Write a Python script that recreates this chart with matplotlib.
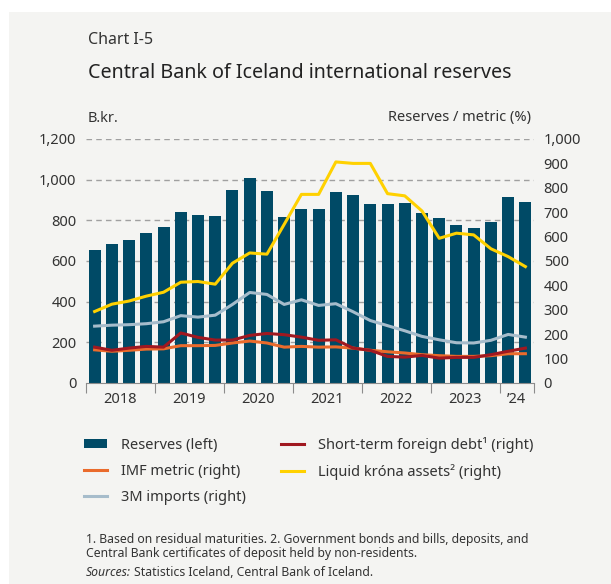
import matplotlib.pyplot as plt
from matplotlib.patches import Rectangle, Patch
from matplotlib.lines import Line2D

plt.rcParams['font.family'] = ['Noto Sans', 'DejaVu Sans']

# Quarterly data 2018Q1 - 2024Q2
years = ["2018", "2019", "2020", "2021", "2022", "2023", "\u201924"]
quarters_per_year = [4, 4, 4, 4, 4, 4, 2]

reserves = [655, 684, 704, 738, 768, 841, 827, 822,
            950, 1008, 945, 817, 856, 856, 940, 925,
            881, 881, 886, 837, 812, 778, 763, 792,
            915, 891]
liquid_krona = [293, 323, 336, 356, 372, 413, 416, 405,
                491, 533, 528, 650, 773, 773, 906, 900,
                900, 776, 767, 705, 593, 614, 607, 550,
                518, 477]
imports_3m = [233, 237, 239, 243, 251, 276, 270, 278,
              322, 371, 363, 322, 341, 318, 325, 292,
              256, 235, 214, 191, 177, 165, 164, 175,
              199, 188]
short_term_debt = [147, 134, 143, 150, 147, 205, 187, 176,
                   176, 195, 203, 198, 188, 175, 177, 143,
                   134, 109, 106, 113, 102, 105, 105, 116,
                   130, 143]
imf_metric = [136, 130, 134, 139, 140, 153, 153, 154,
              164, 172, 164, 147, 150, 147, 148, 143,
              134, 128, 123, 116, 112, 109, 109, 112,
              120, 120]

C_BAR = "#004a66"
C_YEL = "#ffd100"
C_RED = "#a01820"
C_ORA = "#ea6b2c"
C_BLU = "#a6bccb"
C_TXT = "#333333"
C_BG = "#f4f4f2"

W, H = 611, 584
fig = plt.figure(figsize=(W / 100, H / 100), dpi=100, facecolor="white")
fig.patches.append(Rectangle((9 / W, 0), 1 - 9 / W, 1 - 12 / H,
                             transform=fig.transFigure, facecolor=C_BG,
                             edgecolor="none", zorder=-10))

ax = fig.add_axes([86 / W, 1 - 383 / H, (534 - 86) / W, (383 - 139) / H])
ax.set_facecolor("none")
ax2 = ax.twinx()

n = len(reserves)
xs = list(range(n))
ax.bar(xs, reserves, width=0.7, color=C_BAR, zorder=2)
ax.set_xlim(-0.5, n - 0.5)
ax.set_ylim(0, 1200)
ax.set_yticks(range(0, 1201, 200))
ax.set_yticklabels([f"{v:,}" for v in range(0, 1201, 200)])
for v in range(200, 1201, 200):
    ax.axhline(v, color="#a0a0a0", lw=1, ls=(0, (4, 3)), zorder=1)

ax2.plot(xs, imports_3m, color=C_BLU, lw=2.2)
ax2.plot(xs, imf_metric, color=C_ORA, lw=2.2)
ax2.plot(xs, short_term_debt, color=C_RED, lw=2.2)
ax2.plot(xs, liquid_krona, color=C_YEL, lw=2.2)
ax2.set_ylim(0, 1000)
ax2.set_yticks(range(0, 1001, 100))
ax2.set_yticklabels([f"{v:,}" for v in range(0, 1001, 100)])

for a in (ax, ax2):
    for s in ("top", "left", "right"):
        a.spines[s].set_visible(False)
    a.spines["bottom"].set_color("#8c8c8c")
    a.tick_params(axis="y", length=0, labelsize=10.5, labelcolor=C_TXT, pad=7)
ax2.spines["bottom"].set_visible(False)

# year boundaries and labels
bounds = [-0.5]
for q in quarters_per_year:
    bounds.append(bounds[-1] + q)
ax.set_xticks(bounds)
ax.set_xticklabels([])
ax.tick_params(axis="x", length=7, color="#8c8c8c", direction="out")
centers = [(bounds[i] + bounds[i + 1]) / 2 for i in range(len(years))]
for c, lab in zip(centers, years):
    ax.text(c, -0.035, lab, transform=ax.get_xaxis_transform(),
            ha="center", va="top", fontsize=10.5, color=C_TXT)

# titles and axis units
fig.text(88 / W, 1 - 40 / H, "Chart I-5", fontsize=11.5, color=C_TXT, va="center")
fig.text(88 / W, 1 - 73 / H, "Central Bank of Iceland international reserves",
         fontsize=14.2, color="#222222", va="center")
fig.text(88 / W, 1 - 118 / H, "B.kr.", fontsize=10.5, color=C_TXT, va="center")
fig.text(531 / W, 1 - 118 / H, "Reserves / metric (%)", fontsize=10.5,
         color=C_TXT, va="center", ha="right")

handles = [
    Patch(facecolor=C_BAR, edgecolor="none"),
    Line2D([], [], color=C_ORA, lw=2.2),
    Line2D([], [], color=C_BLU, lw=2.2),
    Line2D([], [], color=C_RED, lw=2.2),
    Line2D([], [], color=C_YEL, lw=2.2),
]
labels = [
    "Reserves (left)",
    "IMF metric (right)",
    "3M imports (right)",
    "Short-term foreign debt\u00b9 (right)",
    "Liquid kr\u00f3na assets\u00b2 (right)",
]
fig.legend(handles, labels, ncol=2, loc="upper left",
           bbox_to_anchor=(84 / W, 1 - 437 / H), frameon=False,
           fontsize=10.5, handlelength=1.6, handleheight=0.6,
           handletextpad=0.95, columnspacing=2.4, labelspacing=0.75,
           borderpad=0, borderaxespad=0, labelcolor=C_TXT)

FN = 8.8
fig.text(86 / W, 1 - 540 / H,
         "1. Based on residual maturities. 2. Government bonds and bills, deposits, and",
         fontsize=FN, color=C_TXT, va="center")
fig.text(86 / W, 1 - 553 / H,
         "Central Bank certificates of deposit held by non-residents.",
         fontsize=FN, color=C_TXT, va="center")
src = fig.text(86 / W, 1 - 573 / H, "Sources:", fontsize=FN, color=C_TXT,
               va="center", fontstyle="italic")
fig.canvas.draw()
bb = src.get_window_extent()
fig.text(bb.x1 / W + 3 / W, 1 - 573 / H, "Statistics Iceland, Central Bank of Iceland.",
         fontsize=FN, color=C_TXT, va="center")

fig.savefig("out.png", dpi=100, facecolor=fig.get_facecolor())
